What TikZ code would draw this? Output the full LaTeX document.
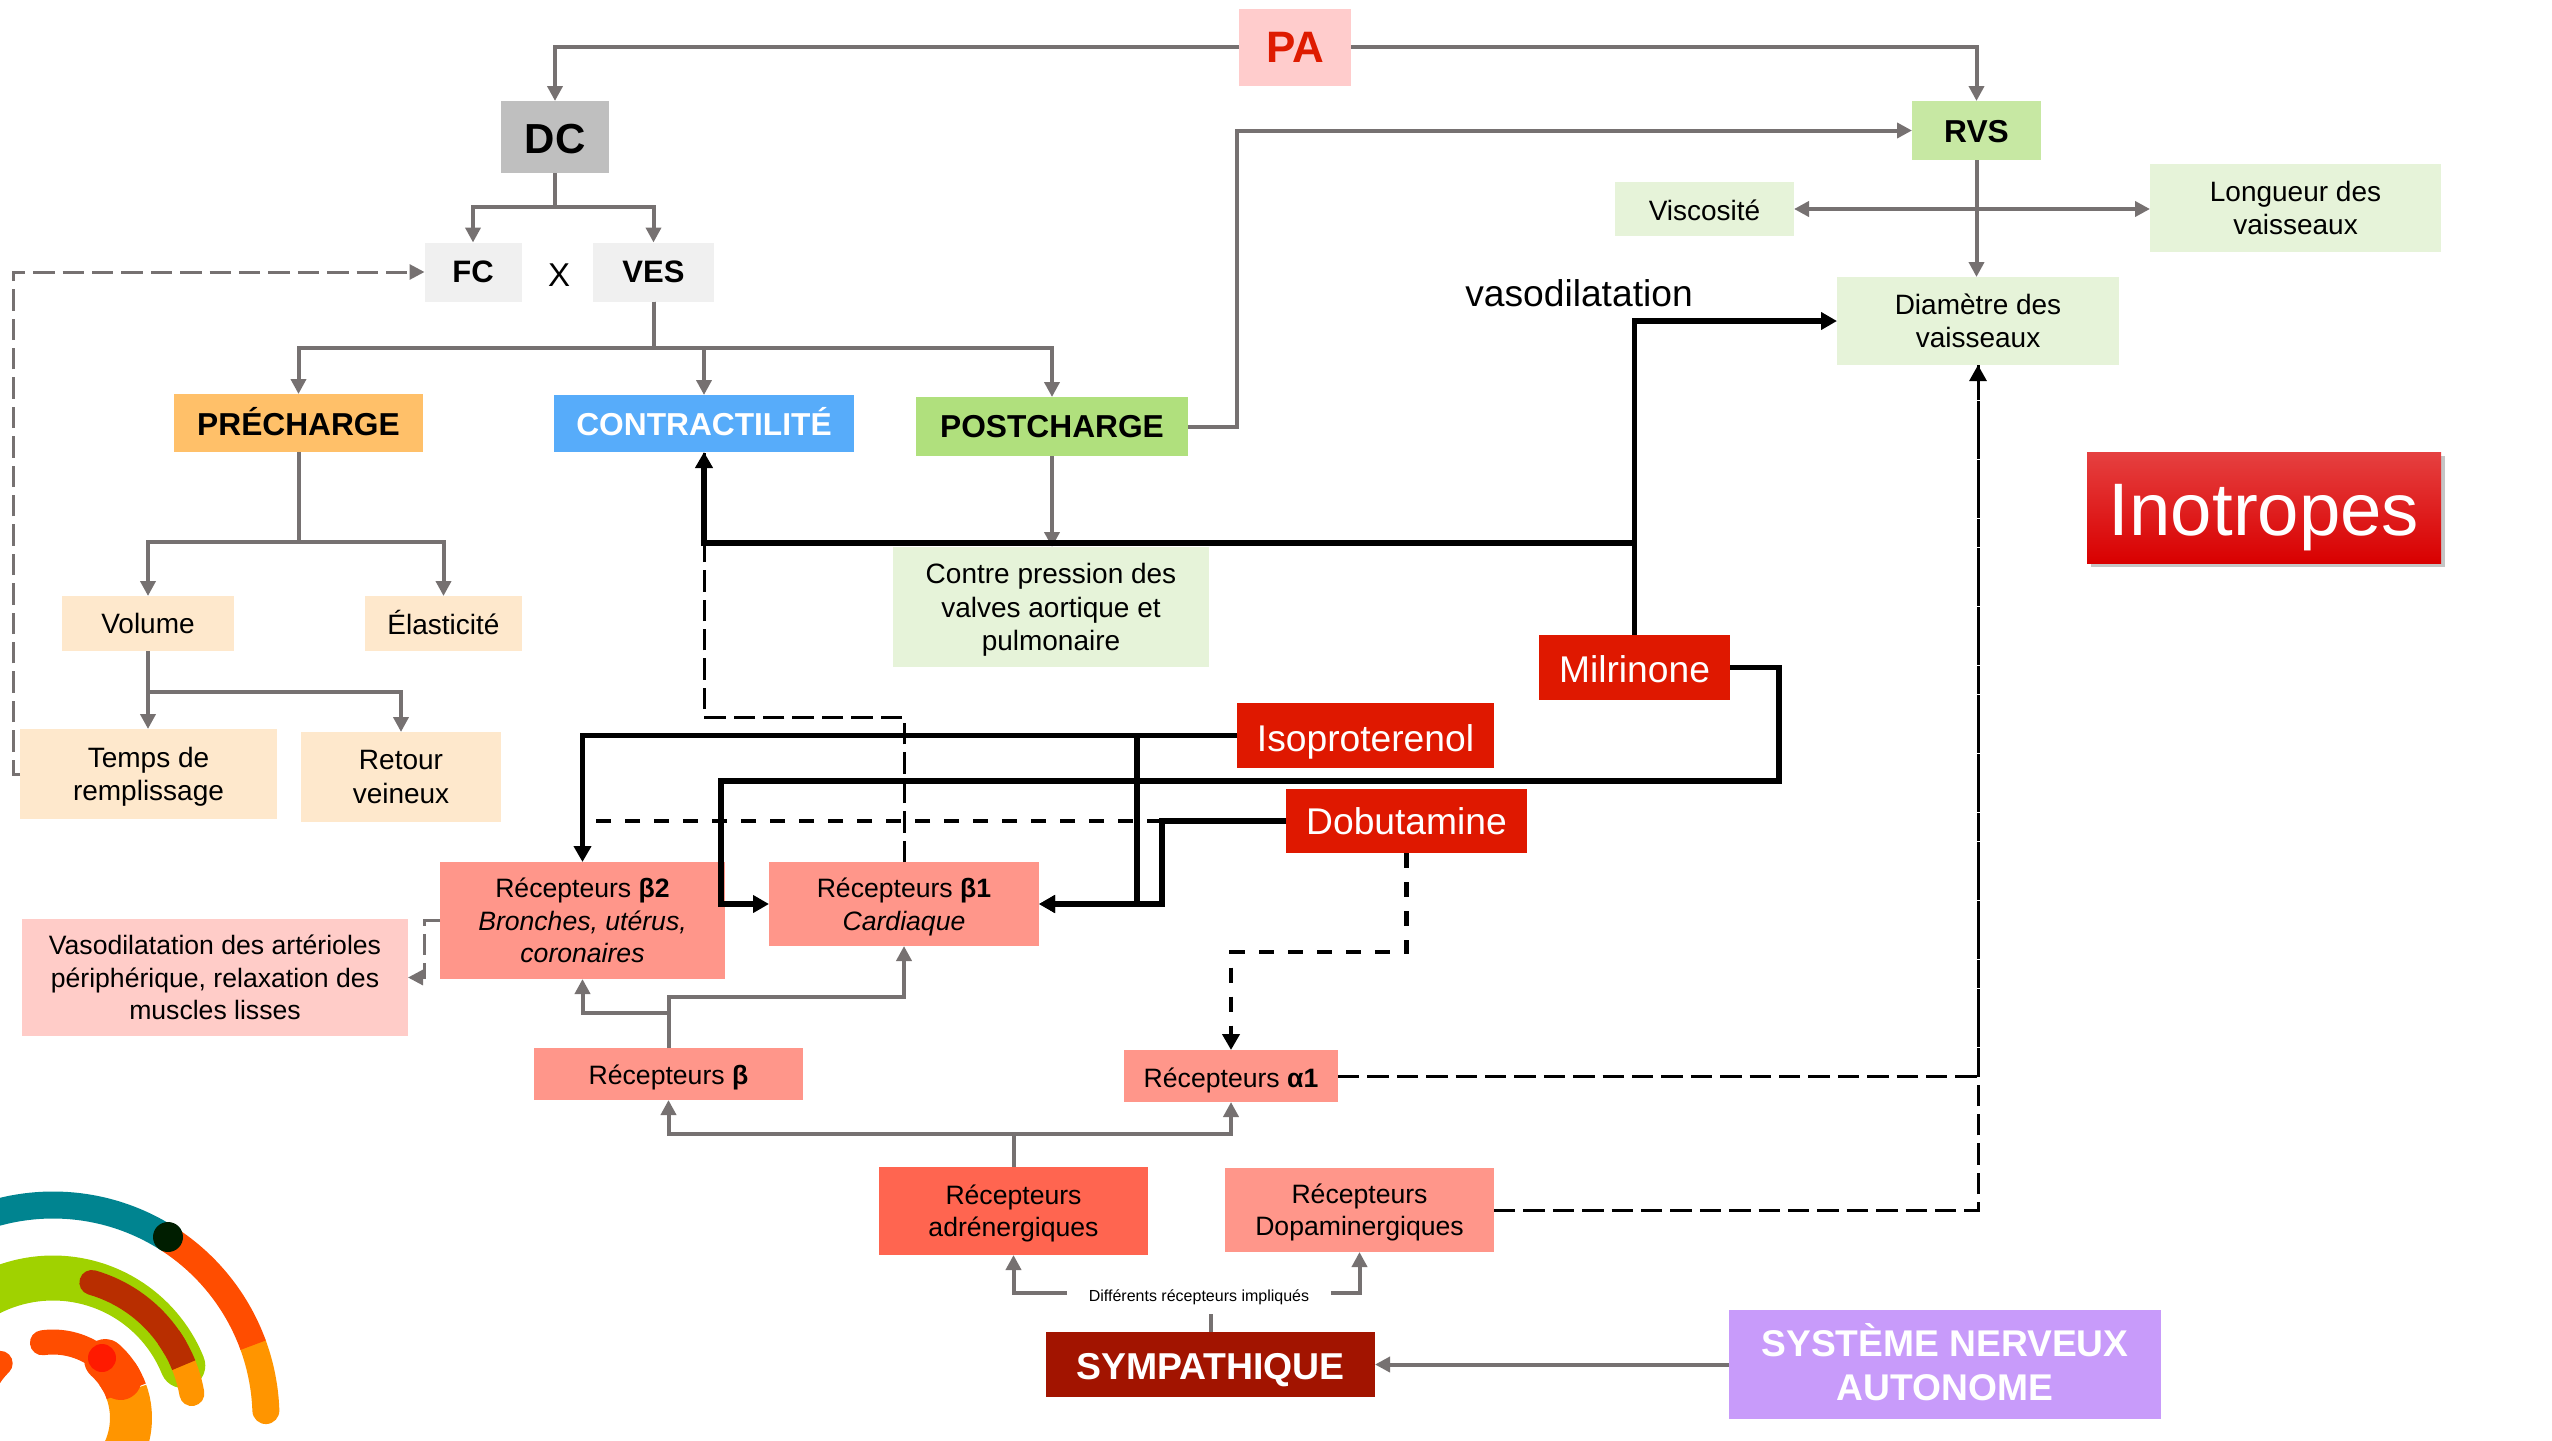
\documentclass[tikz,border=0pt]{standalone}
\usepackage{xcolor}
\usepackage{fontspec}
\setmainfont{Liberation Sans}
\usetikzlibrary{arrows.meta,calc,shadows}
\definecolor{linegray}{RGB}{118,113,113}
\definecolor{pared}{RGB}{222,27,0}
\definecolor{papink}{RGB}{255,204,204}
\definecolor{dcgray}{RGB}{191,191,191}
\definecolor{fcgray}{RGB}{240,240,240}
\definecolor{rvsgreen}{RGB}{199,232,163}
\definecolor{palegreen}{RGB}{230,243,217}
\definecolor{preorange}{RGB}{255,192,105}
\definecolor{contrblue}{RGB}{87,172,250}
\definecolor{postgreen}{RGB}{176,224,125}
\definecolor{palecream}{RGB}{254,232,204}
\definecolor{recsalmon}{RGB}{255,150,138}
\definecolor{recstrong}{RGB}{255,101,80}
\definecolor{vasopink}{RGB}{255,204,200}
\definecolor{drugred}{RGB}{223,24,0}
\definecolor{sympred}{RGB}{162,20,0}
\definecolor{snapurple}{RGB}{200,155,250}
\definecolor{logoteal}{RGB}{0,132,144}
\definecolor{logored}{RGB}{255,77,0}
\definecolor{logoorange}{RGB}{255,149,0}
\definecolor{logogreen}{RGB}{160,210,0}
\definecolor{logobrown}{RGB}{184,46,0}
\definecolor{logodark}{RGB}{0,30,0}
\definecolor{logodot}{RGB}{255,26,0}
\newcommand{\fs}[2]{\fontsize{#1}{#2}\selectfont}
\tikzset{
    sz/.style 2 args={minimum width=#1*0.5pt, minimum height=#2*0.5pt},
    low/.style={execute at begin node={\rule{0pt}{#1}}},
    bx/.style={inner sep=0pt, outer sep=0pt, align=center, font=\fs{14}{16.7}},
    hdr/.style={bx, font=\fs{15.85}{19}\bfseries},
    rec/.style={bx, fill=recsalmon, font=\fs{13.3}{16.2}},
    drug/.style={bx, fill=drugred, text=white, font=\fs{18.6}{23}},
    conn/.style={draw=linegray, line width=2pt, -{Triangle[length=7.5pt,width=7.5pt]}},
    plainconn/.style={draw=linegray, line width=2pt},
    grayd/.style={conn, line width=1.5pt, dash pattern=on 10.7pt off 4pt},
    hard/.style={draw=black, line width=2.8pt, -{Triangle[length=8pt,width=8.5pt]}},
    hardd/.style={draw=black, line width=2.4pt, dash pattern=on 7.5pt off 7pt},
    thind/.style={draw=black, line width=1.5pt, dash pattern=on 10.7pt off 4pt}
}
\begin{document}
\begin{tikzpicture}[x=0.5pt,y=-0.5pt]
    \useasboundingbox (0,0) rectangle (2552,1440);

    % Logo
    \begin{scope}
        \clip (0,1150) rectangle (320,1440);
        \foreach \col/\wid/\from/\to/\rad/\tip in {
            logoteal/27/57/135/213/butt,
            logoorange/27/20/2/213/round,
            logored/27/57/20/213/butt,
            logogreen/45/22/125/140/round,
            logoorange/25/22/10/141/round,
            logobrown/25/74/30/141/round,
            logobrown/25/35/22/141/butt,
            logored/25/98/55/76/round,
            logored/25/134/170/76/round,
            logoorange/42/20/-40/78/butt,
            logored/42/48/30/78/round,
            logored/42/35/20/78/butt%
        } {
            \draw[\col, line width=\wid*0.5pt, line cap=\tip]
                ({53+\rad*cos(\from)},{1418-\rad*sin(\from)})
                arc[start angle=\from, end angle=\to, radius=\rad*0.5pt];
        }
        \node[circle, fill=logodark, minimum size=15pt, inner sep=0pt] (dotdark) at (168,1237) {};
        \node[circle, fill=logodot, minimum size=14pt, inner sep=0pt] (dotred) at (102,1358) {};
    \end{scope}

    % Top of the tree
    \node[bx, sz={112}{77}, fill=papink, text=pared, font=\fs{22}{26}\bfseries] (pa) at (1295,47) {PA};
    \node[bx, sz={108}{72}, fill=dcgray, font=\fs{21}{25}\bfseries, low=16.6pt] (dc) at (555,137) {DC};
    \node[hdr, sz={129}{59}, fill=rvsgreen, low=12.2pt] (rvs) at (1976.5,130.5) {RVS};
    \node[bx, sz={179}{54}, fill=palegreen, low=11.8pt] (visc) at (1704.5,209) {Viscosité};
    \node[bx, sz={291}{88}, fill=palegreen, text depth=-1.6pt] (long) at (2295.5,208) {Longueur des\\vaisseaux};
    \node[hdr, sz={97}{59}, fill=fcgray, font=\fs{15.5}{19}\bfseries] (fc) at (473,272) {FC};
    \node[hdr, sz={121}{59}, fill=fcgray, font=\fs{15.5}{19}\bfseries] (ves) at (653.5,272) {VES};
    \node[inner sep=0pt, font=\fs{16.5}{20}] (xlab) at (559,275) {X};
    \node[inner sep=0pt, font=\fs{18.6}{22}] (vasolab) at (1579,293) {vasodilatation};
    \node[bx, sz={282}{88}, fill=palegreen] (diam) at (1978,321) {Diamètre des\\vaisseaux};

    % Determinants
    \node[hdr, sz={249}{58}, fill=preorange, text depth=1.6pt] (pre) at (298.5,423) {PRÉCHARGE};
    \node[hdr, sz={300}{57}, fill=contrblue, text=white, text depth=1.6pt] (contr) at (704,423.5) {CONTRACTILITÉ};
    \node[hdr, sz={272}{59}, fill=postgreen] (post) at (1052,426.5) {POSTCHARGE};
    \node[bx, sz={316}{120}, fill=palegreen, text depth=-0.3pt] (contre) at (1051,607) {Contre pression des\\valves aortique et\\pulmonaire};
    \node[bx, sz={172}{55}, fill=palecream] (vol) at (148,623.5) {Volume};
    \node[bx, sz={157}{55}, fill=palecream, text depth=1.6pt] (elast) at (443.5,623.5) {Élasticité};
    \node[bx, sz={257}{90}, fill=palecream, text depth=-0.3pt] (temps) at (148.5,774) {Temps de\\remplissage};
    \node[bx, sz={200}{90}, fill=palecream] (retour) at (401,777) {Retour\\veineux};

    % Title box
    \node[bx, sz={354}{111}, top color=red!72!white!90!black, middle color=pared, bottom color=red!85!black,
        text=white, font=\fs{37.2}{42}, low=35.3pt, drop shadow={shadow xshift=2.2pt, shadow yshift=-2.2pt, fill=black!45}] (ino) at (2264,507.5) {Inotropes};

    % Drugs
    \node[drug, sz={191}{65}, low=15.2pt] (mil) at (1634.5,667.5) {Milrinone};
    \node[drug, sz={257}{65}, low=20pt] (iso) at (1365.5,735.5) {Isoproterenol};
    \node[drug, sz={241}{64}] (dob) at (1406.5,821) {Dobutamine};

    % Receptors
    \node[rec, sz={285}{117}, text depth=-1.6pt] (btwo) at (582.5,920.5) {Récepteurs \textbf{β2}\\\textit{Bronches, utérus,}\\\textit{coronaires}};
    \node[rec, sz={270}{84}, text depth=-1.2pt] (bone) at (904,904) {Récepteurs \textbf{β1}\\\textit{Cardiaque}};
    \node[rec, sz={386}{117}, fill=vasopink, text depth=-1pt] (vaso) at (215,977.5) {Vasodilatation des artérioles\\périphérique, relaxation des\\muscles lisses};
    \node[rec, sz={269}{52}, low=13pt] (beta) at (668.5,1074) {Récepteurs \textbf{β}};
    \node[rec, sz={214}{52}, low=14.6pt] (aone) at (1231,1076) {Récepteurs \textbf{α1}};
    \node[rec, sz={269}{88}, fill=recstrong, text depth=0.4pt] (adr) at (1013.5,1211) {Récepteurs\\adrénergiques};
    \node[rec, sz={269}{84}, text depth=0.4pt] (dopa) at (1359.5,1210) {Récepteurs\\Dopaminergiques};
    \node[inner sep=0pt, sz={263}{42}, font=\fs{8}{10}, low=10.6pt] (diff) at (1199,1293) {Différents récepteurs impliqués};
    \node[bx, sz={329}{65}, fill=sympred, text=white, font=\fs{18.7}{22}\bfseries, low=18.8pt] (symp) at (1210.5,1364.5) {SYMPATHIQUE};
    \node[bx, sz={432}{109}, fill=snapurple, text=white, font=\fs{18.6}{22}\bfseries, text depth=2.4pt] (sna) at (1945,1364.5) {SYSTÈME NERVEUX\\AUTONOME};

    % Gray connectors
    \draw[conn] (pa.west) -| (dc.north);
    \draw[conn] (pa.east) -| (rvs.north);
    \draw[conn] (dc.south) -- ++(0,34) -| (fc.north);
    \draw[conn] (dc.south) -- ++(0,34) -| (ves.north);
    \draw[conn] (ves.south) -- ++(0,46) -| (pre.north);
    \draw[conn] (ves.south) -- ++(0,46) -| (contr.north);
    \draw[conn] (ves.south) -- ++(0,46) -| (post.north);
    \draw[conn] (post.east) -- ++(49,0) |- (rvs.west);
    \draw[conn] (post.south) -- (post.south |- contre.north);
    \draw[conn] (rvs.south) -- (rvs.south |- diam.north);
    \draw[conn, {Triangle[length=7.5pt,width=7.5pt]}-{Triangle[length=7.5pt,width=7.5pt]}] (visc.east) -- (visc.east -| long.west);
    \draw[conn] (pre.south) -- ++(0,90) -| (vol.north);
    \draw[conn] (pre.south) -- ++(0,90) -| (elast.north);
    \draw[conn] (vol.south) -- (vol.south |- temps.north);
    \draw[conn] (vol.south) -- ++(0,41) -| (retour.north);
    \draw[grayd] (temps.west) -- ++(-7,0) |- (fc.west);
    \draw[grayd] (btwo.west) -- ++(-16,0) |- (vaso.east);
    \draw[conn] (beta.north) -- ++(0,-51) -| (bone.south);
    \draw[conn] (beta.north) -- ++(0,-35) -| (btwo.south);
    \draw[conn] (adr.north) -- ++(0,-33) -| (beta.south);
    \draw[conn] (adr.north) -- ++(0,-33) -| (aone.south);
    \draw[conn] (diff.west) -| (adr.south);
    \draw[conn] (diff.east) -| (dopa.south);
    \draw[plainconn] (symp.north) -- (symp.north |- diff.south);
    \draw[conn] (sna.west) -- (symp.east);

    % Dashed connectors
    \draw[thind] (bone.north) -- ++(0,-145) -| (contr.south);
    \draw[thind] (dopa.east) -| (diam.south);
    \draw[thind, -{Triangle[length=8pt,width=8.5pt]}] (aone.east) -| (diam.south);
    \draw[hardd] ($(dob.west)+(-124,0)$) -- (dob.west -| btwo.north);
    \draw[hardd, -{Triangle[length=8pt,width=8.5pt]}] (dob.south) -- ++(0,99) -| (aone.north);

    % Black connectors
    \draw[hard] (iso.west) -| (btwo.north);
    \draw[hard] (iso.west) -- ++(-100,0) |- (bone.east);
    \draw[hard] (dob.west) -- ++(-124,0) |- (bone.east);
    \draw[hard] (mil.east) -- ++(49,0) |- ++(-1058,113.5) |- (bone.west);
    \draw[hard] (mil.north) -- ++(0,-92) -| (contr.south);
    \draw[hard] (mil.north) |- (diam.west);
\end{tikzpicture}
\end{document}
